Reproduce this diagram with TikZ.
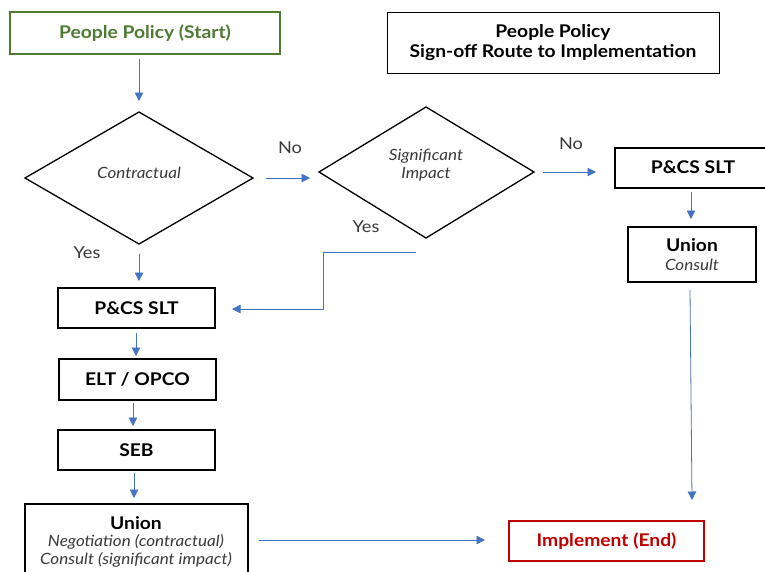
\documentclass[tikz,border=0pt]{standalone}
\usepackage{fontspec}
\setmainfont{Lato}[FakeStretch=1.1]
\usetikzlibrary{arrows.meta,shapes.geometric}
\definecolor{arrowblue}{HTML}{4472C4}
\definecolor{startgreen}{HTML}{4E7A32}
\definecolor{endred}{HTML}{C00000}
\definecolor{ittext}{HTML}{3A3A3A}
\tikzset{
  box/.style={draw=black, line width=1.3pt, inner sep=0pt, font=\bfseries\fontsize{17.5}{20}\selectfont, align=center},
  boldtxt/.style={font=\bfseries\fontsize{17.5}{20}\selectfont},
  ittxt/.style={font=\itshape\fontsize{15.5}{18}\selectfont, text=ittext},
  flow/.style={draw=arrowblue, line width=0.8pt, -{Triangle[length=8.5pt,width=8.5pt]}},
  lbl/.style={font=\fontsize{16.5}{19}\selectfont, text=ittext}
}
\begin{document}
\begin{tikzpicture}[x=1pt,y=-1pt]
\useasboundingbox (0,0) rectangle (765,571);
\fill[white] (0,0) rectangle (765,571);
% start
\node[box, draw=startgreen, text=startgreen, minimum width=270pt, minimum height=42pt] (start) at (145,33) {People Policy (Start)};
% title
\node[box, line width=0.9pt, minimum width=332pt, minimum height=61pt] (title) at (553,42.5) {People Policy\\Sign-off Route to Implementation};
% diamonds
\draw[line width=1.3pt] (25,178) -- (139,112) -- (253,178) -- (139,244) -- cycle;
\node[ittxt] (contr) at (139,173) {Contractual};
\draw[line width=1.3pt] (319,172) -- (426,107) -- (534,172) -- (426,238) -- cycle;
\node[ittxt, align=center] (sig) at (426,165) {Significant\\Impact};
% right column
\node[box, minimum width=156pt, minimum height=40pt] (pr) at (693,168) {};
\node[boldtxt] (prt) at (693,167) {P\&CS SLT};
\node[box, minimum width=128pt, minimum height=55pt] (uc) at (692,254.5) {};
\node[boldtxt] (uct) at (692,245) {Union};
\node[ittxt] (ucs) at (692,265) {Consult};
% left column
\node[box, minimum width=157pt, minimum height=40pt] (p1) at (136.5,308) {P\&CS SLT};
\node[box, minimum width=157pt, minimum height=41pt] (elt) at (137.5,379.5) {ELT / OPCO};
\node[box, minimum width=157pt, minimum height=40pt] (seb) at (136.5,450) {SEB};
\node[box, minimum width=223pt, minimum height=80pt] (un) at (136.5,544) {};
\node[boldtxt] (unt) at (136,523) {Union};
\node[ittxt] (un2) at (136,542) {Negotiation (contractual)};
\node[ittxt] (un3) at (136,560) {Consult (significant impact)};
% end
\node[box, draw=endred, text=endred, minimum width=195pt, minimum height=40pt] (end) at (606.5,541) {Implement (End)};
% labels
\node[lbl] (no1) at (290,148) {No};
\node[lbl] (no2) at (571,144) {No};
\node[lbl] (yes1) at (87,253) {Yes};
\node[lbl] (yes2) at (366,227) {Yes};
% connectors
\coordinate (a1s) at (139,59); \coordinate (a1e) at (139,101);
\draw[flow] (a1s) -- (a1e);
\coordinate (a2s) at (266,178); \coordinate (a2e) at (310,178);
\draw[flow] (a2s) -- (a2e);
\coordinate (a3s) at (543,172); \coordinate (a3e) at (596,172);
\draw[flow] (a3s) -- (a3e);
\coordinate (a4s) at (691,192); \coordinate (a4e) at (691,219);
\draw[flow] (a4s) -- (a4e);
\coordinate (a5s) at (690,290); \coordinate (a5e) at (692,500);
\draw[flow] (a5s) -- (a5e);
\coordinate (a6s) at (139,254); \coordinate (a6e) at (139,281);
\draw[flow] (a6s) -- (a6e);
\coordinate (a7s) at (416,252); \coordinate (a7e) at (232,309);
\draw[flow] (a7s) -- (323,252) -- (323,309) -- (a7e);
\coordinate (a8s) at (136,333); \coordinate (a8e) at (136,356);
\draw[flow] (a8s) -- (a8e);
\coordinate (a9s) at (133,403); \coordinate (a9e) at (133,426);
\draw[flow] (a9s) -- (a9e);
\coordinate (a10s) at (134,473); \coordinate (a10e) at (134,498);
\draw[flow] (a10s) -- (a10e);
\coordinate (a11s) at (259,540); \coordinate (a11e) at (485,540);
\draw[flow] (a11s) -- (a11e);
\end{tikzpicture}
\end{document}
